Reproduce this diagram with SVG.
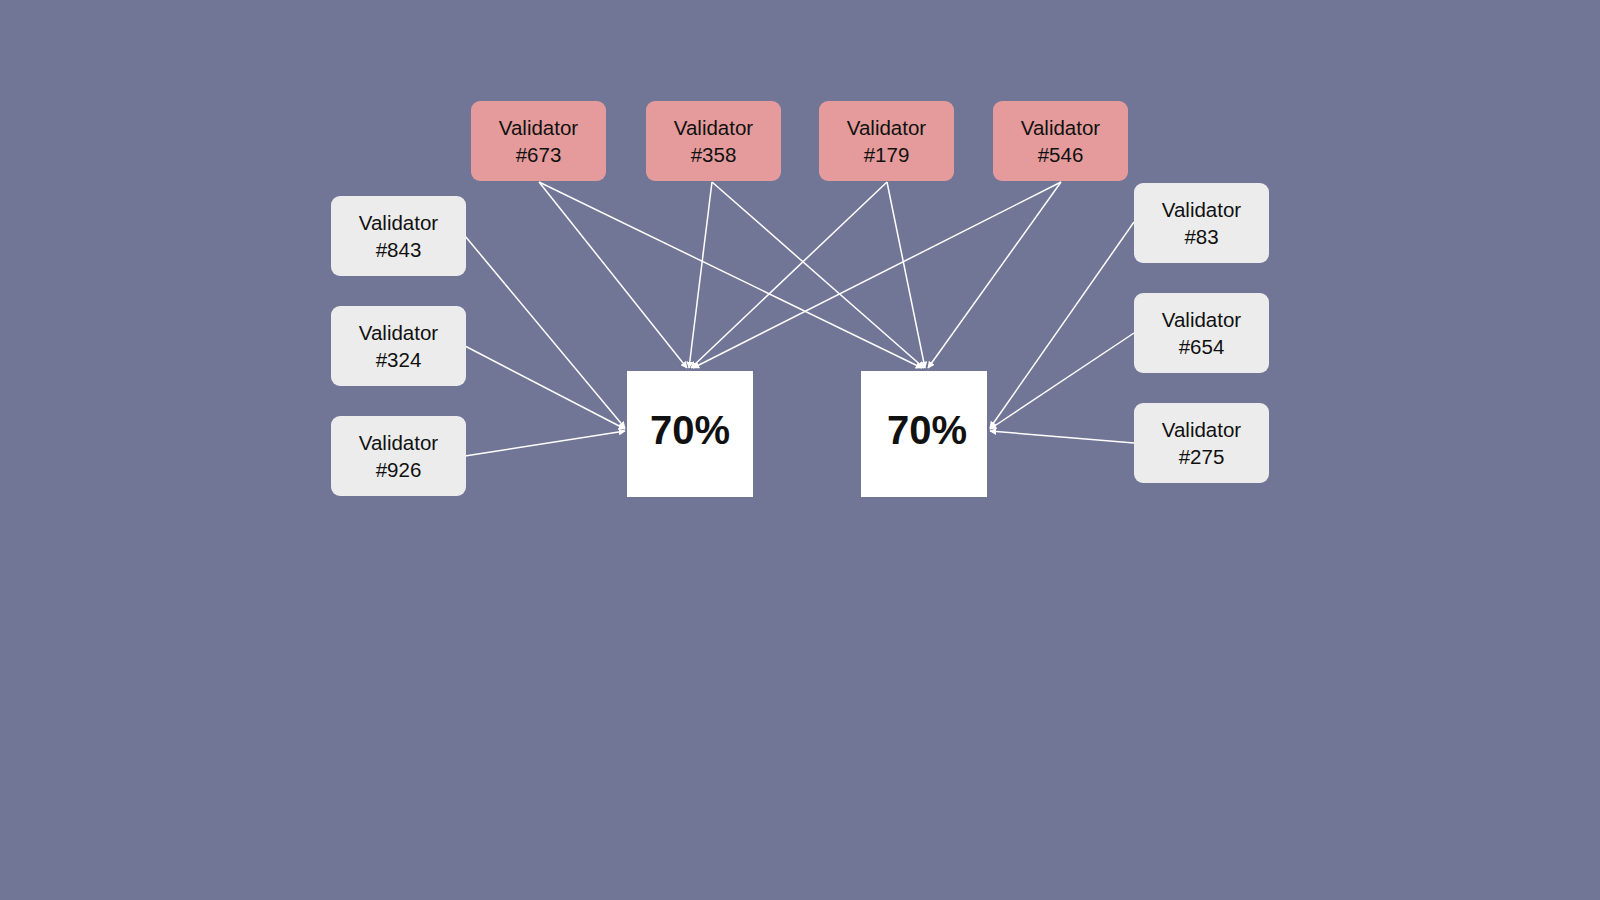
<svg xmlns="http://www.w3.org/2000/svg" width="1600" height="900" viewBox="0 0 1600 900">
<defs>
<style>
.r{fill:#e59b9b}.g{fill:#ececec}
text{font-family:"Liberation Sans",Arial,sans-serif;font-size:20.5px;fill:#111;text-anchor:middle}
.big{font-size:40px;font-weight:bold}
#connectors line{stroke:#fff;stroke-width:1.5;marker-end:url(#a)}
</style>
<marker id="a" viewBox="0 0 10 10" refX="9" refY="5" markerWidth="7" markerHeight="7" orient="auto" markerUnits="userSpaceOnUse"><path d="M0,0L10,5L0,10z" fill="#fff"/></marker>
</defs>
<rect width="1600" height="900" fill="#717596"/>
<g id="connectors">
<line x1="539" y1="182" x2="687" y2="368"/><line x1="539" y1="182" x2="922" y2="368"/>
<line x1="712" y1="182" x2="689" y2="368"/><line x1="712" y1="182" x2="924" y2="368"/>
<line x1="887" y1="182" x2="691" y2="368"/><line x1="887" y1="182" x2="925" y2="368"/>
<line x1="1061" y1="182" x2="693" y2="368"/><line x1="1061" y1="182" x2="928" y2="368"/>
<line x1="465" y1="236" x2="625" y2="428"/><line x1="465" y1="346" x2="625" y2="429"/><line x1="465" y1="456" x2="625" y2="431"/>
<line x1="1134" y1="222" x2="990" y2="428"/><line x1="1134" y1="333" x2="990" y2="429"/><line x1="1134" y1="443" x2="990" y2="431"/>
</g>
<g id="v673"><rect class="r" x="471" y="101" width="135" height="80" rx="9"/><text x="538.5" y="135">Validator</text><text x="538.5" y="162">#673</text></g>
<g id="v358"><rect class="r" x="646" y="101" width="135" height="80" rx="9"/><text x="713.5" y="135">Validator</text><text x="713.5" y="162">#358</text></g>
<g id="v179"><rect class="r" x="819" y="101" width="135" height="80" rx="9"/><text x="886.5" y="135">Validator</text><text x="886.5" y="162">#179</text></g>
<g id="v546"><rect class="r" x="993" y="101" width="135" height="80" rx="9"/><text x="1060.5" y="135">Validator</text><text x="1060.5" y="162">#546</text></g>
<g id="v843"><rect class="g" x="331" y="196" width="135" height="80" rx="9"/><text x="398.5" y="230">Validator</text><text x="398.5" y="257">#843</text></g>
<g id="v324"><rect class="g" x="331" y="306" width="135" height="80" rx="9"/><text x="398.5" y="340">Validator</text><text x="398.5" y="367">#324</text></g>
<g id="v926"><rect class="g" x="331" y="416" width="135" height="80" rx="9"/><text x="398.5" y="450">Validator</text><text x="398.5" y="477">#926</text></g>
<g id="v83"><rect class="g" x="1134" y="183" width="135" height="80" rx="9"/><text x="1201.5" y="217">Validator</text><text x="1201.5" y="244">#83</text></g>
<g id="v654"><rect class="g" x="1134" y="293" width="135" height="80" rx="9"/><text x="1201.5" y="327">Validator</text><text x="1201.5" y="354">#654</text></g>
<g id="v275"><rect class="g" x="1134" y="403" width="135" height="80" rx="9"/><text x="1201.5" y="437">Validator</text><text x="1201.5" y="464">#275</text></g>
<g id="boxL"><rect fill="#fff" x="627" y="371" width="126" height="126"/><text class="big" x="690" y="444">70%</text></g>
<g id="boxR"><rect fill="#fff" x="861" y="371" width="126" height="126"/><text class="big" x="927" y="444">70%</text></g>
</svg>
